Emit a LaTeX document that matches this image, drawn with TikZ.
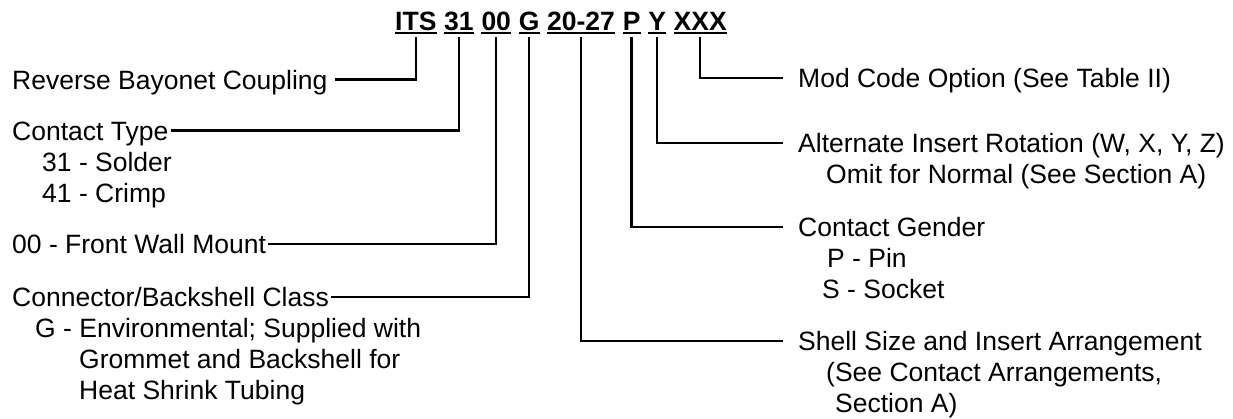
\documentclass[tikz,border=0pt]{standalone}
\usepackage{fontspec}
\setmainfont{Liberation Sans}
\usetikzlibrary{positioning}

\tikzset{
  code/.style={inner xsep=0pt, inner ysep=3pt, text depth=0pt, anchor=base west,
    font=\bfseries\fontsize{26.5}{31}\selectfont},
  desc/.style={inner sep=0pt, text height=19pt, text depth=0pt, anchor=west,
    font=\fontsize{26.5}{31}\selectfont},
  uline/.style={line width=2.5pt},
  lead/.style={line width=2.5pt},
}

\begin{document}
\begin{tikzpicture}[x=1pt,y=-1pt]
\useasboundingbox (0,0) rectangle (1233,418);

% part number
\node[code] (its) at (395,30) {ITS};
\node[code] (typ) at ([xshift=7.4pt]its.base east) {31};
\node[code] (mnt) at ([xshift=7.4pt]typ.base east) {00};
\node[code] (cls) at ([xshift=7.4pt]mnt.base east) {G};
\node[code] (arr) at ([xshift=7.4pt]cls.base east) {20-27};
\node[code] (gen) at ([xshift=7.4pt]arr.base east) {P};
\node[code] (rot) at ([xshift=7.4pt]gen.base east) {Y};
\node[code] (mod) at ([xshift=7.4pt]rot.base east) {XXX};
\foreach \n in {its,typ,mnt,cls,arr,gen,rot,mod}
  \draw[uline] (\n.south west) -- (\n.south east);

% left side
\node[desc] (its-d) at (12,79.5) {Reverse Bayonet Coupling};
\node[desc] (typ-d) at (12,130.5) {Contact Type};
\node[desc] (typ-a) at (42,161.5) {31 - Solder};
\node[desc] (typ-b) at (42,192.5) {41 - Crimp};
\node[desc] (mnt-d) at (12,244) {00 - Front Wall Mount};
\node[desc] (cls-d) at (12,297) {Connector/Backshell Class};
\node[desc] (cls-a) at (35,328) {G - Environmental; Supplied with};
\node[desc] (cls-b) at (79,359) {Grommet and Backshell for};
\node[desc] (cls-c) at (79,390) {Heat Shrink Tubing};

% right side
\node[desc] (mod-d) at (798,78) {Mod Code Option (See Table II)};
\node[desc] (rot-d) at (798,143) {Alternate Insert Rotation (W, X, Y, Z)};
\node[desc] (rot-a) at (826,174) {Omit for Normal (See Section A)};
\node[desc] (gen-d) at (798,227) {Contact Gender};
\node[desc] (gen-a) at (827,258) {P - Pin};
\node[desc] (gen-b) at (822,289) {S - Socket};
\node[desc] (arr-d) at (798,341) {Shell Size and Insert Arrangement};
\node[desc] (arr-a) at (826,372) {(See Contact Arrangements,};
\node[desc] (arr-b) at (835,403) {Section A)};

% leaders
\draw[lead] ([yshift=-4pt]its.south) |- ([xshift=7pt]its-d.east);
\draw[lead] ([yshift=-4pt]typ.south) |- ([xshift=2pt]typ-d.east);
\draw[lead] ([yshift=-4pt]mnt.south) |- ([xshift=2pt]mnt-d.east);
\draw[lead] ([yshift=-4pt]cls.south) |- ([xshift=2pt]cls-d.east);
\draw[lead] ([yshift=-4pt]arr.south) |- ([xshift=-15pt]arr-d.west);
\draw[lead] ([yshift=-4pt]gen.south) |- ([xshift=-15pt]gen-d.west);
\draw[lead] ([yshift=-4pt]rot.south) |- ([xshift=-15pt]rot-d.west);
\draw[lead] ([yshift=-4pt]mod.south) |- ([xshift=-15pt]mod-d.west);
\end{tikzpicture}
\end{document}
